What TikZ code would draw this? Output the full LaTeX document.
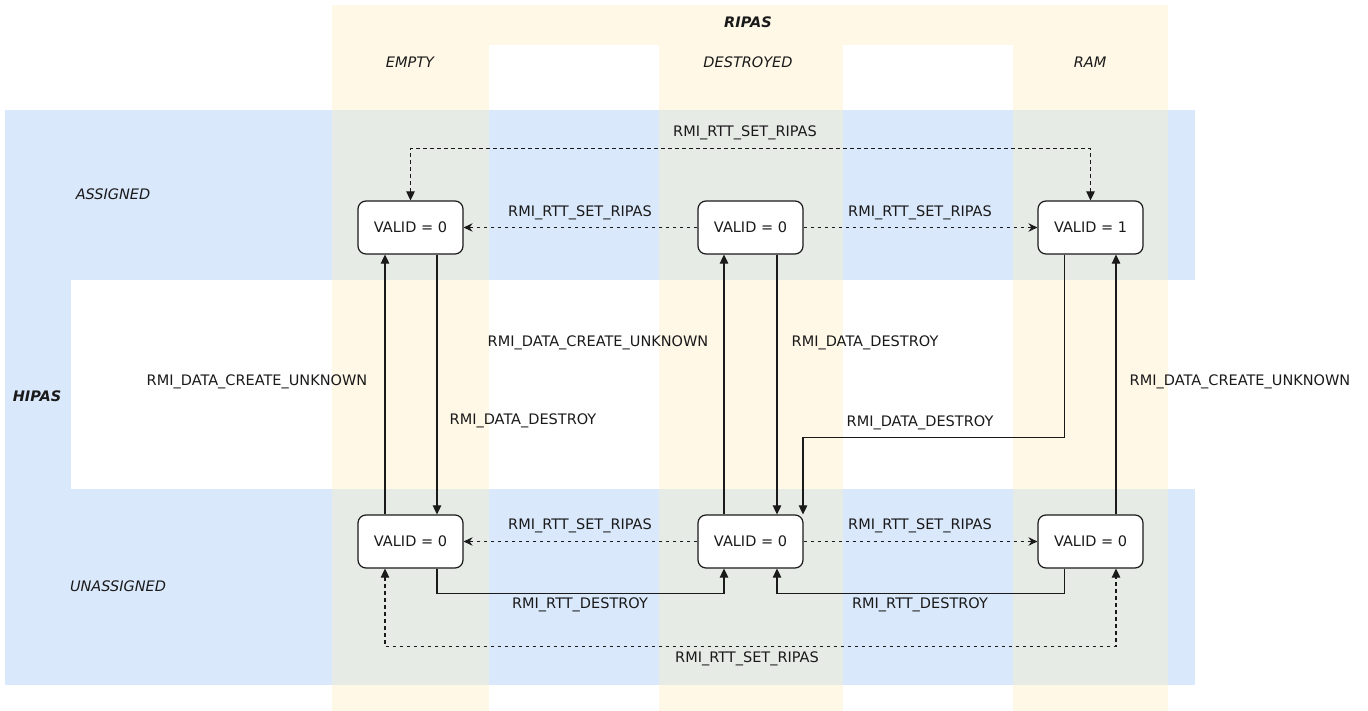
\documentclass[tikz,border=0pt]{standalone}
\usepackage{fontspec}
\setmainfont{DejaVu Sans}
\usetikzlibrary{arrows.meta,calc}
\definecolor{ylw}{HTML}{FFF8E7}
\definecolor{blu}{HTML}{DAE8FC}
\definecolor{ovl}{HTML}{E6EBE6}
\definecolor{ink}{HTML}{1A1A1A}
\begin{document}
\begin{tikzpicture}[x=1pt,y=-1pt,
  every node/.style={font=\fontsize{14.5}{17}\selectfont, text=ink},
  state/.style={draw=ink, line width=1.2pt, fill=white, rounded corners=8pt, minimum width=105pt, minimum height=53pt, inner sep=0pt},
  lbl/.style={inner sep=1pt},
  head/.style={font=\fontsize{14.5}{17}\selectfont\itshape},
  bighead/.style={font=\fontsize{14.5}{17}\selectfont\bfseries\itshape},
  solidarr/.style={draw=ink, line width=1.1pt, -{Triangle[length=9pt,width=8.5pt]}},
  dashh/.style={draw=ink, line width=1.1pt, dash pattern=on 3.5pt off 3.5pt, -{Stealth[length=9pt,width=8.5pt,inset=3pt]}},
  dashboth/.style={draw=ink, line width=1.1pt, dash pattern=on 3.5pt off 3.5pt, {Triangle[length=9pt,width=8.5pt]}-{Triangle[length=9pt,width=8.5pt]}}
]
\useasboundingbox (0,0) rectangle (1368,711);
% RIPAS (yellow)
\fill[ylw] (332,5) rectangle (1168,45);
\fill[ylw] (332,45) rectangle (489,711);
\fill[ylw] (659,45) rectangle (843,711);
\fill[ylw] (1013,45) rectangle (1168,711);
% HIPAS (blue)
\fill[blu] (5,110) rectangle (71,685);
\fill[blu] (71,110) rectangle (1195,280);
\fill[blu] (71,489) rectangle (1195,685);
% overlaps
\foreach \a/\b in {332/489,659/843,1013/1168}{
  \fill[ovl] (\a,110) rectangle (\b,280);
  \fill[ovl] (\a,489) rectangle (\b,685);
}
% headings
\node[bighead] (hripas) at (748,22) {RIPAS};
\node[head] (hempty) at (410,62) {EMPTY};
\node[head] (hdestr) at (748,62) {DESTROYED};
\node[head] (hram) at (1090,62) {RAM};
\node[head] (hass) at (113,194) {ASSIGNED};
\node[bighead] (hhipas) at (37,396) {HIPAS};
\node[head] (hunass) at (118,586) {UNASSIGNED};
% states
\node[state] (t1) at (410.5,227.5) {VALID = 0};
\node[state] (t2) at (750.5,227.5) {VALID = 0};
\node[state] (t3) at (1090.5,227.5) {VALID = 1};
\node[state] (b1) at (410.5,541.5) {VALID = 0};
\node[state] (b2) at (750.5,541.5) {VALID = 0};
\node[state] (b3) at (1090.5,541.5) {VALID = 0};
% top row
\draw[dashboth] (t1.north) -- ++(0,-52) -| (t3.north);
\draw[dashh] (t2.west) -- (t1.east);
\draw[dashh] (t2.east) -- (t3.west);
% verticals
\draw[solidarr] ([xshift=-25.5pt]b1.north) -- ([xshift=-25.5pt]t1.south);
\draw[solidarr] ([xshift=26.5pt]t1.south) -- ([xshift=26.5pt]b1.north);
\draw[solidarr] ([xshift=-26.5pt]b2.north) -- ([xshift=-26.5pt]t2.south);
\draw[solidarr] ([xshift=26.5pt]t2.south) -- ([xshift=26.5pt]b2.north);
\draw[solidarr] ([xshift=-26pt]t3.south) -- ++(0,183) -| ([xshift=52.5pt]b2.north);
\draw[solidarr] ([xshift=25.5pt]b3.north) -- ([xshift=25.5pt]t3.south);
% bottom row
\draw[dashh] (b2.west) -- (b1.east);
\draw[dashh] (b2.east) -- (b3.west);
\draw[solidarr] ([xshift=26.5pt]b1.south) -- ++(0,25) -| ([xshift=-26.5pt]b2.south);
\draw[solidarr] ([xshift=-26pt]b3.south) -- ++(0,25) -| ([xshift=26.5pt]b2.south);
\draw[dashboth] ([xshift=-25.5pt]b1.south) -- ++(0,78) -| ([xshift=25.5pt]b3.south);
% labels
\node[lbl] (l1) at (745,133) {RMI\_RTT\_SET\_RIPAS};
\node[lbl] (l2) at (580,213) {RMI\_RTT\_SET\_RIPAS};
\node[lbl] (l3) at (920,213) {RMI\_RTT\_SET\_RIPAS};
\node[lbl] (l4) at (257,382) {RMI\_DATA\_CREATE\_UNKNOWN};
\node[lbl] (l5) at (523,421) {RMI\_DATA\_DESTROY};
\node[lbl] (l6) at (598,343) {RMI\_DATA\_CREATE\_UNKNOWN};
\node[lbl] (l7) at (865,343) {RMI\_DATA\_DESTROY};
\node[lbl] (l8) at (920,423) {RMI\_DATA\_DESTROY};
\node[lbl] (l9) at (1240,382) {RMI\_DATA\_CREATE\_UNKNOWN};
\node[lbl] (l10) at (580,526) {RMI\_RTT\_SET\_RIPAS};
\node[lbl] (l11) at (920,526) {RMI\_RTT\_SET\_RIPAS};
\node[lbl] (l12) at (580,605) {RMI\_RTT\_DESTROY};
\node[lbl] (l13) at (920,605) {RMI\_RTT\_DESTROY};
\node[lbl] (l14) at (747,659) {RMI\_RTT\_SET\_RIPAS};
\end{tikzpicture}
\end{document}
